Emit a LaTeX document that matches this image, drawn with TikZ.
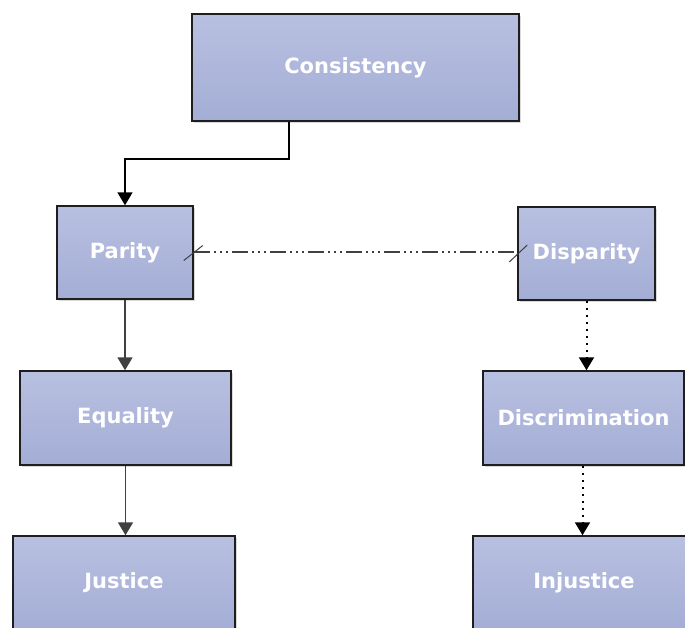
\documentclass[tikz,border=0pt]{standalone}
\usepackage{fontspec}
\setmainfont{DejaVu Sans}
\usetikzlibrary{arrows.meta,shadows}
\definecolor{boxtop}{RGB}{184,192,225}
\definecolor{boxbot}{RGB}{164,173,213}
\definecolor{edgec}{RGB}{30,30,30}
\definecolor{linec}{RGB}{64,64,64}
\tikzset{
  box/.style={draw=edgec, line width=1.5pt, top color=boxtop, bottom color=boxbot,
    inner sep=0pt, text=white, font=\fontsize{21}{24}\selectfont\bfseries,
    drop shadow={shadow xshift=2pt, shadow yshift=-2pt, fill=black!25, opacity=0.6}},
  arr/.style={line width=1.8pt, -{Triangle[width=15pt,length=13pt]}},
  dotarr/.style={line width=2pt, black, dash pattern=on 2pt off 5pt, -{Triangle[width=15pt,length=13pt]}},
  relline/.style={line width=1.6pt, linec, dash pattern=on 16pt off 4pt on 2pt off 4pt on 2pt off 4pt on 2pt off 4pt},
  tick/.style={line width=1pt, linec}
}
\begin{document}
\begin{tikzpicture}[x=1pt,y=-1pt]
\useasboundingbox (0,0) rectangle (685,627);
\clip (0,0) rectangle (685,627);
\node[box, minimum width=327pt, minimum height=107pt] (cons) at (355.5,67.5) {Consistency};
\node[box, minimum width=136pt, minimum height=93pt] (par) at (125,252.5) {Parity};
\node[box, minimum width=137pt, minimum height=93pt] (dis) at (586.5,253.5) {Disparity};
\node[box, minimum width=211pt, minimum height=94pt] (equ) at (125.5,418) {Equality};
\node[box, minimum width=201pt, minimum height=94pt] (disc) at (583.5,418) {Discrimination};
\node[box, minimum width=222pt, minimum height=94pt] (jus) at (124,583) {Justice};
\node[box, minimum width=222pt, minimum height=94pt] (inj) at (584,583) {Injustice};

\draw[arr, black] ([xshift=-66.5pt]cons.south) -- ++(0,37) -| (par.north);
\draw[arr, linec] (par.south) -- (par.south |- equ.north);
\draw[arr, linec] (equ.south) -- (equ.south |- jus.north);
\draw[dotarr] (dis.south) -- (dis.south |- disc.north);
\draw[dotarr] ([xshift=-1pt]disc.south) -- ([xshift=-1pt]disc.south |- inj.north);

\draw[relline] ([yshift=0.5pt]par.east) -- ([yshift=0.5pt]par.east -| dis.west);
\draw[tick] ([shift={(-10,8)}]par.east) -- ([shift={(9,-7)}]par.east);
\draw[tick] ([shift={(-8,8.5)}]dis.west) -- ([shift={(10,-8.5)}]dis.west);
\end{tikzpicture}
\end{document}
